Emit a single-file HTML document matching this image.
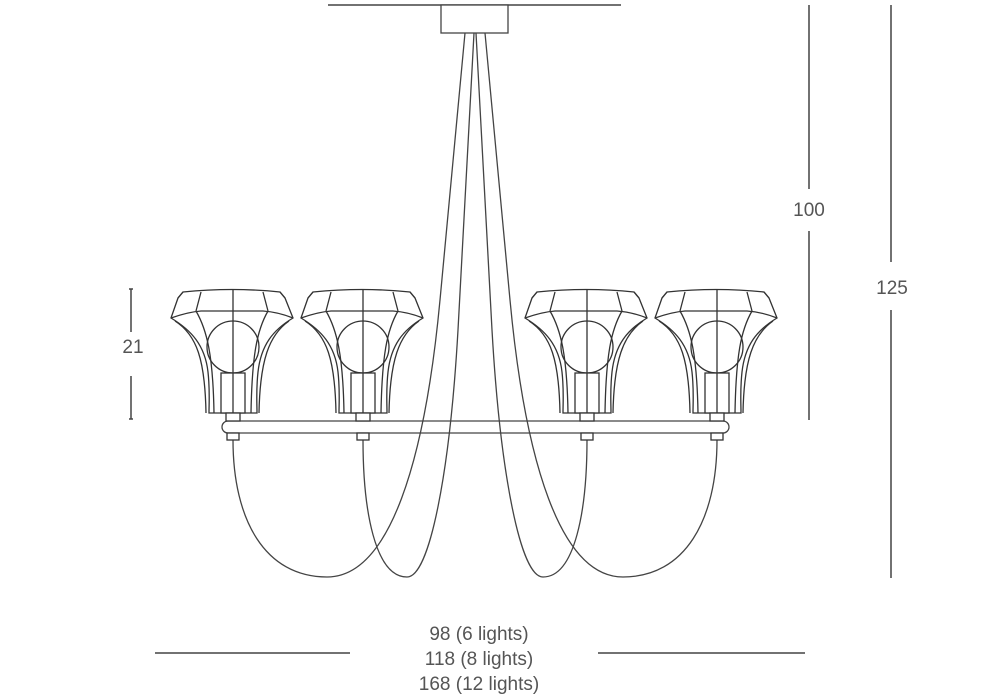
<!DOCTYPE html>
<html><head><meta charset="utf-8"><style>
html,body{margin:0;padding:0;background:#fff;}
svg{display:block;}
text{font-family:"Liberation Sans","DejaVu Sans",sans-serif;fill:#555;font-size:19px;}
</style></head><body>
<svg width="1000" height="700" viewBox="0 0 1000 700" xmlns="http://www.w3.org/2000/svg">
<defs>
<g id="shade" fill="none" stroke="#333" stroke-width="1.3">
  <path d="M-62,318 L-55,298 L-50,292 Q0,287 47,292 L52,298 L60,318 C40,330 28,345 25,372 C23,390 24,403 24,413 L-24,413 C-24,403 -23,390 -25,372 C-28,345 -42,330 -62,318 Z" fill="#fff"/>
  <path d="M-62,318 Q-45,312 -32,311 L30,311 Q45,312 60,318"/>
  <path d="M-32,292 L-37,311 M30,292 L35,311 M-50,292 L-55,298 M47,292 L52,298"/>
  <path d="M-37,311 C-26,330 -20,355 -19,413 M35,311 C24,330 19,355 18,413"/>
  <path d="M-58,321 C-36,335 -28,360 -27,413 M56,321 C36,335 27,360 26,413"/>
  <circle cx="0" cy="347" r="26"/>
  <path d="M0,289 L0,413"/>
  <rect x="-12" y="373" width="24" height="40" fill="#fff"/>
  <path d="M0,373 L0,413"/>
  <rect x="-7" y="413" width="14" height="8" fill="#fff"/>
  <rect x="-6" y="433" width="12" height="7" fill="#fff"/>
</g>
</defs>
<!-- ceiling and canopy -->
<line x1="328" y1="5" x2="621" y2="5" stroke="#444" stroke-width="1.5"/>
<rect x="441" y="5" width="67" height="28" fill="#fff" stroke="#444" stroke-width="1.3"/>
<!-- ring bar -->
<rect x="222" y="421" width="507" height="12" rx="6" fill="#fff" stroke="#444" stroke-width="1.3"/>
<!-- wires -->
<g fill="none" stroke="#444" stroke-width="1.3">
  <path d="M465,33 L440,300 C425,460 390,577 327,577 C265,577 233,520 233,440"/>
  <path d="M474,33 L458,330 C450,470 430,577 407,577 C375,577 363,510 363,440"/>
  <path d="M476,33 L492,330 C500,470 520,577 543,577 C575,577 587,510 587,440"/>
  <path d="M485,33 L510,300 C525,460 560,577 623,577 C685,577 717,520 717,440"/>
</g>
<use href="#shade" x="233"/>
<use href="#shade" x="363"/>
<use href="#shade" x="587"/>
<use href="#shade" x="717"/>
<!-- dimensions -->
<g stroke="#444" stroke-width="1.5">
  <line x1="809" y1="5" x2="809" y2="189"/>
  <line x1="809" y1="231" x2="809" y2="420"/>
  <line x1="891" y1="5" x2="891" y2="262"/>
  <line x1="891" y1="310" x2="891" y2="578"/>
  <line x1="131" y1="289" x2="131" y2="332"/>
  <line x1="131" y1="376" x2="131" y2="419"/>
  <line x1="129" y1="289" x2="133" y2="289"/>
  <line x1="129" y1="419" x2="133" y2="419"/>
  <line x1="155" y1="653" x2="350" y2="653"/>
  <line x1="598" y1="653" x2="805" y2="653"/>
</g>
<text x="809" y="216" text-anchor="middle">100</text>
<text x="892" y="294" text-anchor="middle">125</text>
<text x="133" y="353" text-anchor="middle">21</text>
<text x="479" y="640" text-anchor="middle">98 (6 lights)</text>
<text x="479" y="665" text-anchor="middle">118 (8 lights)</text>
<text x="479" y="690" text-anchor="middle">168 (12 lights)</text>
</svg>
</body></html>
